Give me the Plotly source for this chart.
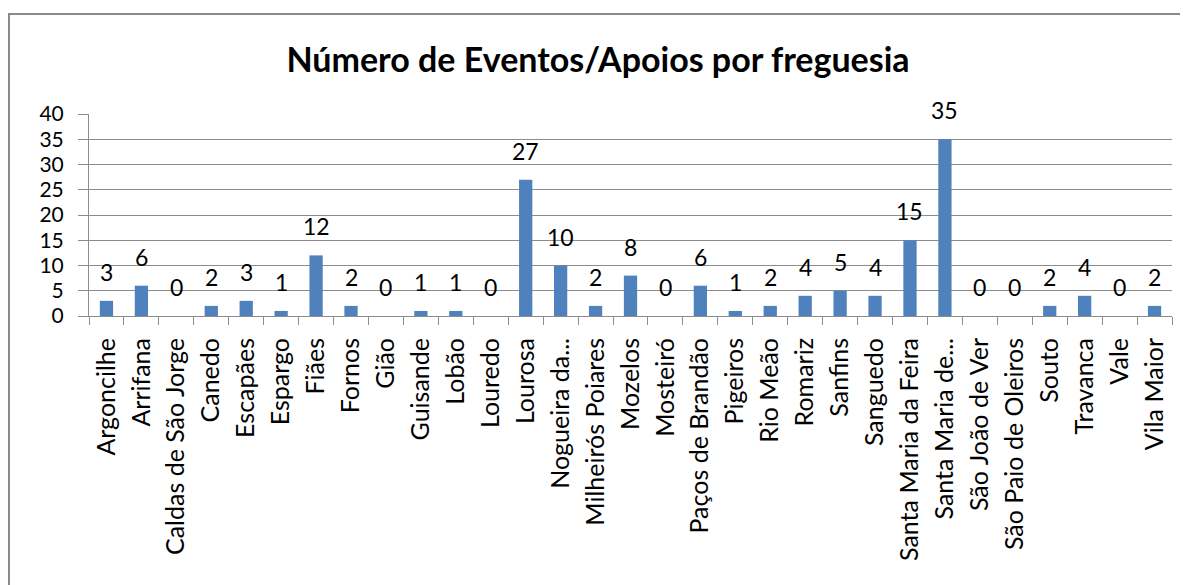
import plotly.graph_objects as go

categories = ["Argoncilhe", "Arrifana", "Caldas de São Jorge", "Canedo", "Escapães", "Espargo",
              "Fiães", "Fornos", "Gião", "Guisande", "Lobão", "Louredo", "Lourosa",
              "Nogueira da...", "Milheirós Poiares", "Mozelos", "Mosteiró", "Paços de Brandão",
              "Pigeiros", "Rio Meão", "Romariz", "Sanfins", "Sanguedo", "Santa Maria da Feira",
              "Santa Maria de...", "São João de Ver", "São Paio de Oleiros", "Souto", "Travanca",
              "Vale", "Vila Maior"]
values = [3, 6, 0, 2, 3, 1, 12, 2, 0, 1, 1, 0, 27, 10, 2, 8, 0, 6, 1, 2, 4, 5, 4, 15, 35,
          0, 0, 2, 4, 0, 2]
y_ticks = [0, 5, 10, 15, 20, 25, 30, 35, 40]

FONT = "Lato"
GRID = "#8c8c8c"
W, H = 1180, 577          # page has an 8px body margin
L, T = 81, 106            # plot area at page x=89, y=114
PW, PH = 1083, 202

fig = go.Figure(go.Bar(
    x=categories, y=values,
    marker=dict(color="#4F81BD", line=dict(width=0)),
    width=0.38,
    hoverinfo="x+y",
))

for c, v in zip(categories, values):
    fig.add_annotation(x=c, y=v, text=str(v), showarrow=False,
                       xanchor="center", yanchor="bottom", yshift=13,
                       font=dict(family=FONT, size=23, color="#000000"))

fig.update_layout(
    width=W, height=H,
    margin=dict(l=L, r=W - L - PW, t=T, b=H - T - PH, autoexpand=False),
    paper_bgcolor="white", plot_bgcolor="white",
    showlegend=False,
    title=dict(text="<b>Número de Eventos/Apoios por freguesia</b>",
               x=0.5, xanchor="center", y=1 - 52/H, yanchor="middle",
               font=dict(family=FONT, size=34, color="#000000")),
    font=dict(family=FONT, size=23, color="#000000"),
)
fig.update_xaxes(
    type="category", tickangle=-90, tickson="boundaries",
    ticks="outside", ticklen=8, tickcolor=GRID, tickwidth=1,
    showline=True, linecolor=GRID, linewidth=1,
    showgrid=False, tickfont=dict(family=FONT, size=25, color="#000000"),
    ticklabelstandoff=11, automargin=False,
)
fig.update_yaxes(
    range=[0, 40], tickvals=y_ticks, ticktext=[str(t) for t in y_ticks],
    ticks="outside", ticklen=10, tickcolor=GRID, tickwidth=1,
    showline=True, linecolor=GRID, linewidth=1,
    showgrid=True, gridcolor=GRID, gridwidth=1, zeroline=False,
    tickfont=dict(family=FONT, size=21, color="#000000"),
    ticklabelstandoff=10, automargin=False,
)
fig.add_shape(type="rect", xref="paper", yref="paper",
              x0=(9 - 89) / PW, x1=2.0, y0=-3.0, y1=(316 - 14) / PH,
              line=dict(color="#8a8a8a", width=2), fillcolor="rgba(0,0,0,0)", layer="above")

fig.write_html("out.html")
